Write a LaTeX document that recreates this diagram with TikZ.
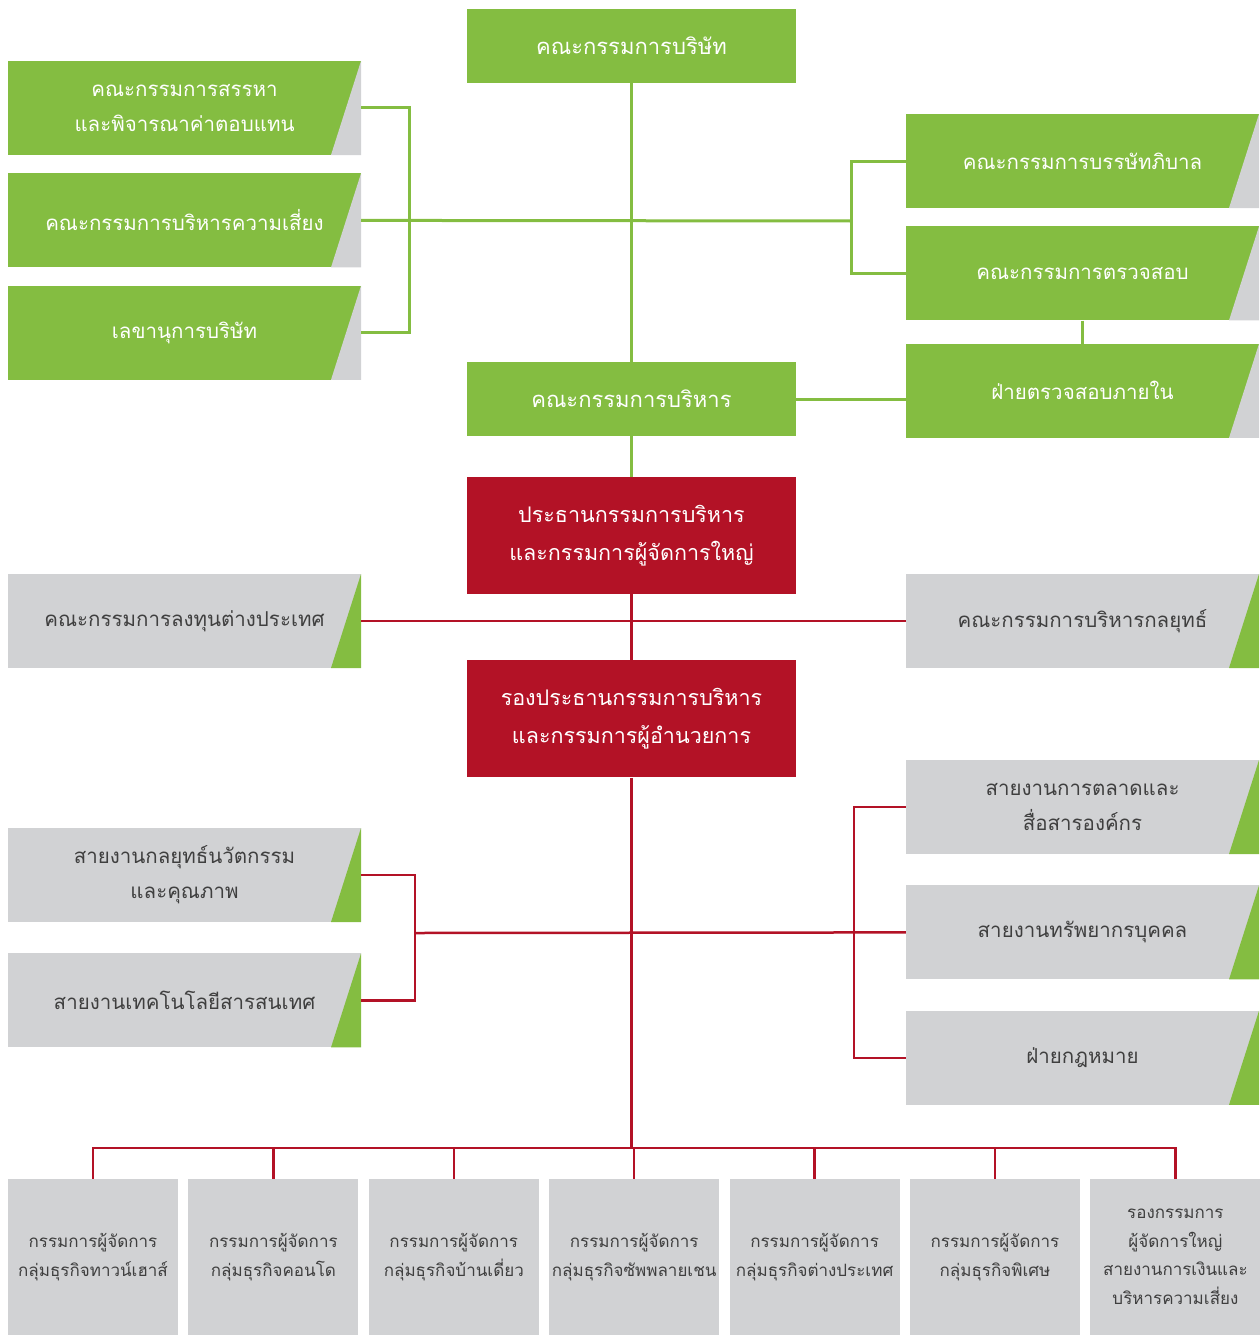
\documentclass[tikz,border=0pt]{standalone}
\usepackage{fontspec}
\newfontfamily\thaifont[Script=Thai]{Loma}
\usetikzlibrary{positioning}
\definecolor{leaf}{HTML}{84BD41}
\definecolor{wine}{HTML}{B31226}
\definecolor{panel}{HTML}{D1D2D4}
\definecolor{ink}{HTML}{3F3F3F}

\tikzset{
  every node/.style={align=center, inner sep=0pt, font=\thaifont\fontsize{20.5}{35}\selectfont},
  corner/.style={path picture={\fill[#1] (path picture bounding box.north east) -- (path picture bounding box.south east) -- ([xshift=-30pt]path picture bounding box.south east) -- cycle;}},
  gbox/.style={rectangle, fill=leaf, text=white, minimum width=353pt, minimum height=94pt, corner=panel},
  sbox/.style={rectangle, fill=panel, text=ink, minimum width=353pt, minimum height=94pt, corner=leaf},
  topbox/.style={rectangle, fill=leaf, text=white, minimum width=329pt, minimum height=74pt, font=\thaifont\fontsize{22}{35}\selectfont},
  rbox/.style={rectangle, fill=wine, text=white, minimum width=329pt, minimum height=117pt, font=\thaifont\fontsize{21.5}{38}\selectfont},
  ubox/.style={rectangle, fill=panel, text=ink, minimum width=170pt, minimum height=156pt, font=\thaifont\fontsize{17}{28.5}\selectfont},
  gline/.style={draw=leaf, line width=3pt},
  rline/.style={draw=wine, line width=2.5pt}
}

\begin{document}
\begin{tikzpicture}[x=1pt, y=-1pt]
	\useasboundingbox (0,0) rectangle (1259,1335);
	
	% Consiglio
	\node[topbox] (board) at (631.5,46) {คณะกรรมการบริษัท};
	\node[topbox] (exec) at (631.5,399) {คณะกรรมการบริหาร};
	
	% Comitati a sinistra
	\node[gbox] (nom) at (184.5,108) {คณะกรรมการสรรหา\\และพิจารณาค่าตอบแทน};
	\node[gbox, below=18pt of nom] (risk) {คณะกรรมการบริหารความเสี่ยง};
	\node[gbox, below=18pt of risk] (sec) {เลขานุการบริษัท};
	
	% Comitati a destra
	\node[gbox] (gov) at (1082.5,161) {คณะกรรมการบรรษัทภิบาล};
	\node[gbox, below=18pt of gov] (audit) {คณะกรรมการตรวจสอบ};
	\node[gbox, below=23pt of audit] (ia) {ฝ่ายตรวจสอบภายใน};
	
	% Direzione
	\node[rbox] (ceo) at (631.5,535.5) {ประธานกรรมการบริหาร\\และกรรมการผู้จัดการใหญ่};
	\node[rbox, below=66pt of ceo] (pres) {รองประธานกรรมการบริหาร\\และกรรมการผู้อำนวยการ};
	\node[sbox] (inv) at (184.5,621) {คณะกรรมการลงทุนต่างประเทศ};
	\node[sbox] (strat) at (1082.5,621) {คณะกรรมการบริหารกลยุทธ์};
	
	% Linee di staff
	\node[sbox] (innov) at (184.5,875) {สายงานกลยุทธ์นวัตกรรม\\และคุณภาพ};
	\node[sbox, below=31pt of innov] (it) {สายงานเทคโนโลยีสารสนเทศ};
	\node[sbox] (mkt) at (1082.5,807) {สายงานการตลาดและ\\สื่อสารองค์กร};
	\node[sbox, below=31pt of mkt] (hr) {สายงานทรัพยากรบุคคล};
	\node[sbox, below=31pt of hr] (legal) {ฝ่ายกฎหมาย};
	
	% Gruppi di business
	\node[ubox] (b1) at (93,1257) {กรรมการผู้จัดการ\\กลุ่มธุรกิจทาวน์เฮาส์};
	\node[ubox, right=10pt of b1] (b2) {กรรมการผู้จัดการ\\กลุ่มธุรกิจคอนโด};
	\node[ubox, right=10pt of b2] (b3) {กรรมการผู้จัดการ\\กลุ่มธุรกิจบ้านเดี่ยว};
	\node[ubox, right=10pt of b3] (b4) {กรรมการผู้จัดการ\\กลุ่มธุรกิจซัพพลายเชน};
	\node[ubox, right=10pt of b4] (b5) {กรรมการผู้จัดการ\\กลุ่มธุรกิจต่างประเทศ};
	\node[ubox, right=10pt of b5] (b6) {กรรมการผู้จัดการ\\กลุ่มธุรกิจพิเศษ};
	\node[ubox, right=10pt of b6] (b7) {รองกรรมการ\\ผู้จัดการใหญ่\\สายงานการเงินและ\\บริหารความเสี่ยง};
	
	% Giunzioni
	\coordinate (lj) at (409,221);
	\coordinate (rj) at (851,221);
	\coordinate (lj2) at (415,933);
	\coordinate (rj2) at (854,933);
	\coordinate (bus) at (631.5,1148);
	
	% Connessioni
	\draw[gline] (board) -- (exec);
	\draw[gline] (nom.east) -| (lj) |- (sec.east);
	\draw[gline] (risk.east) -- (rj);
	\draw[gline] (gov.west) -| (rj) |- (audit.west);
	\draw[gline] (audit) -- (ia);
	\draw[gline] (exec.east) -- (exec.east -| ia.west);
	\draw[gline] (exec) -- (ceo);
	\draw[rline] (ceo) -- (pres);
	\draw[rline] (inv.east) -- (strat.west);
	\draw[rline] (pres) -- (bus);
	\draw[rline] (innov.east) -| (lj2) |- (it.east);
	\draw[rline] (lj2) -- (hr.west);
	\draw[rline] (mkt.west) -| (rj2) |- (legal.west);
	\foreach \b in {b1,b2,b3,b4,b5,b6,b7}
		\draw[rline] (\b.north) |- (bus);
\end{tikzpicture}
\end{document}
